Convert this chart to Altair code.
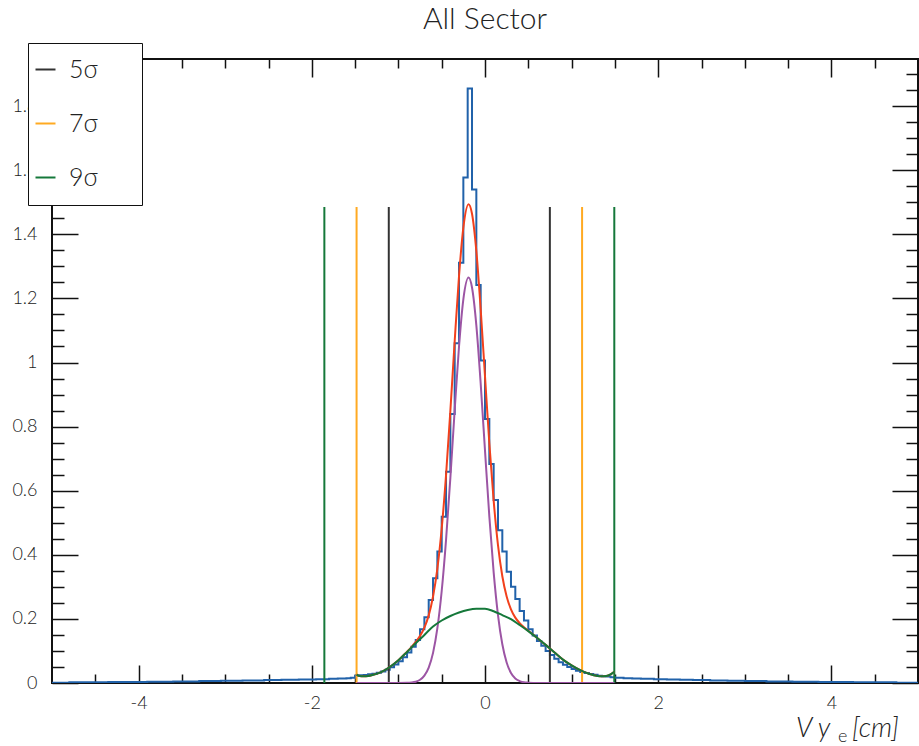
import altair as alt
import pandas as pd

# ---------------- data ----------------
# histogram: 200 bins of width 0.05 on [-5, 5]
BIN_START = -5.0
BIN_WIDTH = 0.05
hist_vals = [
    0.001, 0.001, 0.001, 0.001, 0.002, 0.002, 0.002, 0.002, 0.002, 0.002,
    0.002, 0.002, 0.002, 0.003, 0.003, 0.003, 0.003, 0.003, 0.003, 0.003,
    0.003, 0.003, 0.004, 0.004, 0.004, 0.004, 0.004, 0.004, 0.005, 0.005,
    0.005, 0.005, 0.005, 0.005, 0.006, 0.006, 0.006, 0.006, 0.006, 0.007,
    0.007, 0.007, 0.007, 0.007, 0.008, 0.008, 0.008, 0.008, 0.008, 0.009,
    0.009, 0.009, 0.009, 0.010, 0.010, 0.010, 0.010, 0.011, 0.011, 0.011,
    0.011, 0.012, 0.012, 0.012, 0.013, 0.013, 0.014, 0.014, 0.015, 0.016,
    0.023, 0.024, 0.025, 0.027, 0.029, 0.032, 0.036, 0.041, 0.049, 0.058,
    0.068, 0.080, 0.095, 0.113, 0.134, 0.168, 0.205, 0.259, 0.327, 0.410,
    0.519, 0.659, 0.839, 1.060, 1.311, 1.577, 1.855, 1.540, 1.242, 1.006,
    0.824, 0.683, 0.571, 0.477, 0.410, 0.347, 0.300, 0.262, 0.225, 0.195,
    0.168, 0.148, 0.131, 0.116, 0.100, 0.087, 0.076, 0.065, 0.057, 0.050,
    0.044, 0.038, 0.034, 0.031, 0.028, 0.026, 0.023, 0.021, 0.020, 0.018,
    0.016, 0.016, 0.015, 0.015, 0.014, 0.014, 0.013, 0.013, 0.013, 0.012,
    0.012, 0.012, 0.011, 0.011, 0.011, 0.010, 0.010, 0.010, 0.009, 0.009,
    0.009, 0.009, 0.008, 0.008, 0.008, 0.008, 0.007, 0.007, 0.007, 0.007,
    0.006, 0.006, 0.006, 0.006, 0.006, 0.005, 0.005, 0.005, 0.005, 0.005,
    0.005, 0.004, 0.004, 0.004, 0.004, 0.004, 0.004, 0.003, 0.003, 0.003,
    0.003, 0.003, 0.003, 0.003, 0.003, 0.002, 0.002, 0.002, 0.002, 0.002,
    0.002, 0.002, 0.002, 0.002, 0.002, 0.001, 0.001, 0.001, 0.001, 0.001,
]

# broad gaussian component (green)
green_x = [-1.483, -1.45, -1.40, -1.35, -1.30, -1.20, -1.10, -1.00, -0.90, -0.80,
           -0.70, -0.60, -0.50, -0.40, -0.30, -0.20, -0.10, 0.00, 0.10, 0.20,
           0.30, 0.40, 0.50, 0.60, 0.70, 0.80, 0.90, 1.00, 1.10, 1.20,
           1.30, 1.35, 1.40, 1.45, 1.493]
green_y = [0.026, 0.022, 0.021, 0.022, 0.025, 0.034, 0.050, 0.071, 0.097, 0.124,
           0.150, 0.176, 0.195, 0.209, 0.220, 0.228, 0.232, 0.232, 0.224, 0.212,
           0.199, 0.181, 0.162, 0.141, 0.119, 0.096, 0.073, 0.055, 0.040, 0.029,
           0.022, 0.021, 0.022, 0.027, 0.035]

# narrow gaussian component (purple)
purple_x = [-1.483, -1.00, -0.90, -0.85, -0.80, -0.75, -0.70, -0.65, -0.60, -0.55,
            -0.50, -0.45, -0.40, -0.35, -0.30, -0.25, -0.19, -0.15, -0.10, -0.05,
            0.00, 0.05, 0.10, 0.15, 0.20, 0.25, 0.30, 0.35, 0.40, 0.45,
            0.50, 0.60, 1.493]
purple_y = [0.0, 0.0, 0.0005, 0.0015, 0.004, 0.010, 0.023, 0.048, 0.094, 0.171,
            0.287, 0.446, 0.640, 0.852, 1.050, 1.197, 1.265, 1.234, 1.116, 0.935,
            0.725, 0.520, 0.345, 0.212, 0.121, 0.064, 0.031, 0.014, 0.006, 0.002,
            0.001, 0.0, 0.0]

# total fit (red)
red_x = [-1.483, -1.45, -1.40, -1.35, -1.30, -1.20, -1.10, -1.00, -0.90, -0.85,
         -0.80, -0.75, -0.70, -0.65, -0.60, -0.55, -0.50, -0.45, -0.40, -0.35,
         -0.30, -0.25, -0.19, -0.15, -0.10, -0.05, 0.00, 0.05, 0.10, 0.15,
         0.20, 0.25, 0.30, 0.35, 0.40, 0.45, 0.50, 0.60, 0.70, 0.80,
         0.90, 1.00, 1.10, 1.20, 1.30, 1.35, 1.40, 1.45, 1.493]
red_y = [0.026, 0.022, 0.021, 0.022, 0.025, 0.034, 0.050, 0.071, 0.098, 0.112,
         0.128, 0.147, 0.173, 0.211, 0.270, 0.357, 0.482, 0.648, 0.849, 1.067,
         1.270, 1.421, 1.494, 1.464, 1.348, 1.167, 0.957, 0.748, 0.569, 0.430,
         0.333, 0.270, 0.230, 0.204, 0.187, 0.174, 0.163, 0.141, 0.119, 0.096,
         0.073, 0.055, 0.040, 0.029, 0.022, 0.021, 0.022, 0.027, 0.035]

# sigma window lines
sigma_labels = ["5σ", "5σ", "7σ", "7σ", "9σ", "9σ"]
sigma_x = [-1.111, 0.749, -1.483, 1.121, -1.855, 1.493]
sigma_top = 1.485
legend_order = ["5σ", "7σ", "9σ"]
legend_colors = ["#333333", "#ffaa22", "#15783a"]

x_major = [-4, -2, 0, 2, 4]
y_major = [0, 0.2, 0.4, 0.6, 0.8, 1.0, 1.2, 1.4, 1.6, 1.8]

# ---------------- layout ----------------
W, H = 866, 624
X_DOM = [-5, 5]
Y_DOM = [0, 1.947]
FONT = "Lato"

x_minor = [i * 0.5 for i in range(-9, 10) if i % 4 != 0]
y_minor = [round(i * 0.05, 2) for i in range(1, 39) if i % 4 != 0]

edges = [round(BIN_START + i * BIN_WIDTH, 4) for i in range(len(hist_vals) + 1)]
hist_df = pd.DataFrame({"x": edges, "y": hist_vals + [hist_vals[-1]]})
green_df = pd.DataFrame({"x": green_x, "y": green_y})
purple_df = pd.DataFrame({"x": purple_x, "y": purple_y})
red_df = pd.DataFrame({"x": red_x, "y": red_y})
rules_df = pd.DataFrame({"x": sigma_x, "lab": sigma_labels, "y0": 0.0, "y1": sigma_top})

xs = alt.Scale(domain=X_DOM, nice=False, zero=False)
ys = alt.Scale(domain=Y_DOM, nice=False, zero=False)


def tick_axis(orient, values, size, offset):
    return alt.Axis(orient=orient, offset=offset, values=values, tickSize=size,
                    labels=False, domain=False, grid=False, ticks=True,
                    tickColor="#111111", tickWidth=1.5)


x_label_axis = alt.Axis(orient="bottom", values=x_major, ticks=False, tickSize=0,
                        domain=False, grid=False, labelPadding=11,
                        labelExpr="datum.value < 0 ? '-' + abs(datum.value) : '' + datum.value")
y_label_axis = alt.Axis(orient="left", values=y_major, ticks=False, tickSize=0,
                        domain=False, grid=False, labelPadding=15, format=".1~f")

hist = alt.Chart(hist_df).mark_line(interpolate="step-after", color="#2162aa",
                                    strokeWidth=2, clip=True).encode(
    x=alt.X("x:Q", scale=xs, axis=x_label_axis, title=None),
    y=alt.Y("y:Q", scale=ys, axis=y_label_axis, title=None),
)

rules = alt.Chart(rules_df).mark_rule(strokeWidth=2).encode(
    x=alt.X("x:Q", scale=xs, axis=tick_axis("top", x_major, 18, -H), title=None),
    y=alt.Y("y0:Q", scale=ys, axis=tick_axis("right", y_major, 26, -W), title=None),
    y2="y1:Q",
    color=alt.Color("lab:N",
                    scale=alt.Scale(domain=legend_order, range=legend_colors),
                    legend=alt.Legend(orient="none", legendX=-24, legendY=-16,
                                      title="\u00a0", titleOrient="right",
                                      titlePadding=30, titleFontSize=8,
                                      strokeColor="#111111",
                                      fillColor="white", padding=14,
                                      symbolType="stroke", symbolSize=400,
                                      symbolStrokeWidth=2, symbolOffset=-9,
                                      labelOffset=11, labelFontSize=25,
                                      labelFontWeight=300,
                                      labelFont=FONT, labelColor="#222222",
                                      rowPadding=28)),
)

red = alt.Chart(red_df).mark_line(interpolate="monotone", color="#f2401c",
                                  strokeWidth=2, clip=True).encode(
    x=alt.X("x:Q", scale=xs, axis=tick_axis("top", x_minor, 9, -H), title=None),
    y=alt.Y("y:Q", scale=ys, axis=tick_axis("right", y_minor, 12, -W), title=None),
)

purple = alt.Chart(purple_df).mark_line(interpolate="monotone", color="#9c55a4",
                                        strokeWidth=2, clip=True).encode(
    x=alt.X("x:Q", scale=xs, axis=tick_axis("bottom", x_major, 18, -H), title=None),
    y=alt.Y("y:Q", scale=ys, axis=tick_axis("left", y_major, 26, -W), title=None),
)

green = alt.Chart(green_df).mark_line(interpolate="monotone", color="#15783a",
                                      strokeWidth=2, clip=True).encode(
    x=alt.X("x:Q", scale=xs, axis=tick_axis("bottom", x_minor, 9, -H), title=None),
    y=alt.Y("y:Q", scale=ys, axis=tick_axis("left", y_minor, 12, -W), title=None),
)

one = alt.Data(values=[{"k": 0}])
t_vy = alt.Chart(one).mark_text(text="V y", font=FONT, fontSize=27, fontStyle="italic",
                                fontWeight=300, align="left", baseline="alphabetic",
                                color="#222222").encode(x=alt.value(744), y=alt.value(678))
t_e = alt.Chart(one).mark_text(text="e", font=FONT, fontSize=18, fontWeight=300,
                               align="left", baseline="alphabetic",
                               color="#222222").encode(x=alt.value(786), y=alt.value(683))
t_cm = alt.Chart(one).mark_text(text="[cm]", font=FONT, fontSize=27, fontStyle="italic",
                                fontWeight=300, align="left", baseline="alphabetic",
                                color="#222222").encode(x=alt.value(800), y=alt.value(678))

chart = alt.layer(hist, rules, red, purple, green, t_vy, t_e, t_cm).resolve_axis(
    x="independent", y="independent"
).properties(
    width=W, height=H,
    title=alt.TitleParams("All Sector", font=FONT, fontSize=30, fontWeight=300,
                          color="#222222", anchor="middle", baseline="alphabetic",
                          offset=10, dy=26),
    autosize=alt.AutoSizeParams(type="none"),
    padding={"left": 52, "top": 59, "right": 1, "bottom": 63},
).configure_view(
    stroke="#111111", strokeWidth=2
).configure_axis(
    labelFont=FONT, labelFontSize=18, labelFontWeight=300, labelColor="#222222"
)

chart.save("out.html", embed_options={"renderer": "svg", "actions": False})
